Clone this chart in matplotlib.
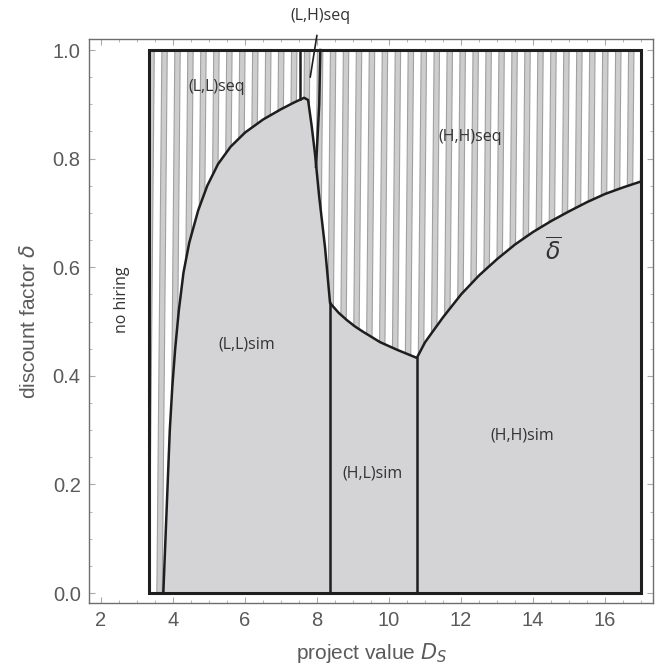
import numpy as np
import matplotlib
matplotlib.use("Agg")
import matplotlib.pyplot as plt
from matplotlib.patches import Polygon, Rectangle

# ── data ───────────────────────────────────────────────────────────────────
box_x = [3.33, 17.0]
box_y = [0.0, 1.0]

# upper edge of (L,L)sim, rising from the floor to the peak
ll_x = [3.73, 3.79, 3.85, 3.91, 3.98, 4.06, 4.16, 4.29, 4.45, 4.7, 4.95, 5.25, 5.6, 6.0, 6.5, 7.0, 7.35, 7.64]
ll_y = [0.0, 0.1, 0.2, 0.3, 0.38, 0.45, 0.52, 0.59, 0.645, 0.705, 0.75, 0.79, 0.822, 0.848, 0.872, 0.891, 0.903, 0.912]

# steep drop from the peak down to the (H,L)sim corner
drop_x = [7.75, 7.85, 7.94, 8.06, 8.22, 8.36]
drop_y = [0.908, 0.86, 0.81, 0.729, 0.637, 0.534]

# upper edge of (H,L)sim
hl_x = [8.36, 8.6, 8.82, 9.05, 9.28, 9.75, 10.22, 10.77]
hl_y = [0.534, 0.516, 0.503, 0.491, 0.481, 0.462, 0.448, 0.433]

# delta-bar curve, upper edge of (H,H)sim
db_x = [10.77, 11.0, 11.5, 12.0, 12.5, 13.0, 13.5, 14.0, 14.5, 15.0, 15.5, 16.0, 16.5, 17.0]
db_y = [0.433, 0.462, 0.508, 0.55, 0.585, 0.615, 0.642, 0.665, 0.685, 0.703, 0.72, 0.735, 0.747, 0.758]

# (L,H)seq wedge borders
lh_left_x = [7.53, 7.53]
lh_left_y = [1.0, 0.91]
lh_right_x = [8.09, 8.06, 7.97]
lh_right_y = [1.0, 0.9, 0.785]

labels = [
    ("(L,L)seq", 5.22, 0.932),
    ("(H,H)seq", 12.25, 0.84),
    ("(L,L)sim", 6.06, 0.457),
    ("(H,L)sim", 9.53, 0.22),
    ("(H,H)sim", 13.69, 0.291),
]

# ── style ───────────────────────────────────────────────────────────────────
SIM_GRAY = "#d4d4d6"
BAND_GRAY = "#cdcdcd"
LINE_GRAY = "#a0a0a0"
AXIS_GRAY = "#6e6e6e"
TXT_GRAY = "#5a5a5a"
INK = "#1e1e1e"
LBL = ["Open Sans", "DejaVu Sans"]

plt.rcParams["font.family"] = ["Liberation Sans", "DejaVu Sans"]

fig = plt.figure(figsize=(6.57, 6.71), dpi=100)
ax = fig.add_axes([0.1355, 0.1013, 0.8585, 0.8406])
ax.set_xlim(1.667, 17.33)
ax.set_ylim(-0.0184, 1.0203)

# hatched background inside the box
box = Rectangle((box_x[0], box_y[0]), box_x[1] - box_x[0], box_y[1] - box_y[0],
                facecolor="white", edgecolor="none", zorder=1)
ax.add_patch(box)

period, band, tilt = 0.36, 0.15, 0.14
for x0 in np.arange(box_x[0] - 0.5, box_x[1] + 0.5, period):
    stripe = Polygon([(x0, 0), (x0 + band, 0), (x0 + band + tilt, 1), (x0 + tilt, 1)],
                     closed=True, facecolor=BAND_GRAY, edgecolor=LINE_GRAY,
                     linewidth=0.8, zorder=2)
    ax.add_patch(stripe)
    stripe.set_clip_path(box)

# filled "sim" regions
top_x = ll_x + drop_x + hl_x[1:] + db_x[1:]
top_y = ll_y + drop_y + hl_y[1:] + db_y[1:]
sim_pts = list(zip(top_x, top_y)) + [(box_x[1], 0.0), (ll_x[0], 0.0)]
ax.add_patch(Polygon(sim_pts, closed=True, facecolor=SIM_GRAY, edgecolor="none", zorder=3))

# boundaries
lw = 1.8
ax.plot(top_x, top_y, color=INK, lw=lw, zorder=4, solid_joinstyle="round")
ax.plot([drop_x[-1], drop_x[-1]], [0, drop_y[-1]], color=INK, lw=lw, zorder=4)
ax.plot([hl_x[-1], hl_x[-1]], [0, hl_y[-1]], color=INK, lw=lw, zorder=4)
ax.plot(lh_left_x, lh_left_y, color=INK, lw=lw, zorder=4)
ax.plot(lh_right_x, lh_right_y, color=INK, lw=lw, zorder=4)
ax.add_patch(Rectangle((box_x[0], box_y[0]), box_x[1] - box_x[0], box_y[1] - box_y[0],
                       facecolor="none", edgecolor=INK, linewidth=2.2, zorder=5))

# region labels
for txt, x, y in labels:
    ax.text(x, y, txt, ha="center", va="center", fontsize=11.5, color="#333333",
            family=LBL, zorder=6)
ax.text(2.58, 0.54, "no hiring", rotation=90, ha="center", va="center", fontsize=11.5,
        color="#333333", family=LBL, zorder=6)
ax.text(14.56, 0.628, r"$\overline{\delta}$", ha="center", va="center", fontsize=17,
        color="#333333", zorder=6)

# (L,H)seq label outside the axes with a leader line
ax.annotate("(L,H)seq", xy=(7.81, 0.95), xytext=(8.08, 1.062),
            ha="center", va="center", fontsize=11.5, color="#333333",
            family=LBL, annotation_clip=False,
            arrowprops=dict(arrowstyle="-", color=INK, lw=1.2, shrinkA=6, shrinkB=0),
            zorder=6)

# axes cosmetics
for sp in ax.spines.values():
    sp.set_color(AXIS_GRAY)
    sp.set_linewidth(1.0)
ax.set_xticks([2, 4, 6, 8, 10, 12, 14, 16])
ax.set_yticks([0.0, 0.2, 0.4, 0.6, 0.8, 1.0])
ax.set_xticks(np.arange(2, 17.5, 0.5), minor=True)
ax.set_yticks(np.arange(0, 1.01, 0.05), minor=True)
ax.tick_params(which="both", direction="in", top=True, right=True, color="#aaaaaa")
ax.tick_params(which="major", length=4, labelsize=14.5, labelcolor=TXT_GRAY, pad=6)
ax.tick_params(which="minor", length=2)
ax.set_yticklabels(["0.0", "0.2", "0.4", "0.6", "0.8", "1.0"])

ax.set_xlabel(r"project value $D_S$", fontsize=15, color=TXT_GRAY, labelpad=8)
ax.set_ylabel(r"discount factor $\delta$", fontsize=15, color=TXT_GRAY, labelpad=10)

fig.savefig("out.png", dpi=100)
